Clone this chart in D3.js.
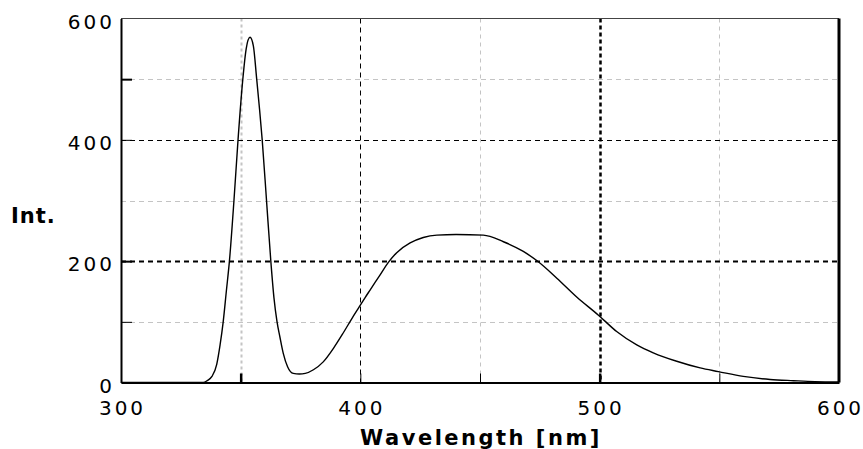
<!DOCTYPE html>
<html>
<head>
<meta charset="utf-8">
<script src="https://cdn.jsdelivr.net/npm/d3@7"></script>
<style>
  html, body { margin: 0; padding: 0; background: #fff; }
  svg { display: block; }
</style>
</head>
<body>
<svg id="chart" width="863" height="449"></svg>
<script>
// --- Data ---
const wavelength = [300, 330, 334.4, 336, 338, 340, 341.4, 342.7, 344, 345.3, 347.2, 348.9, 350.9, 352.3, 353.9,
  355.3, 356.7, 357.9, 359.0, 360.8, 362.6, 363.9, 365.2, 366.4, 367.8, 369.6, 372, 374.5, 377, 380.4,
  384.5, 388.7, 392.9, 396.4, 399.6, 402, 404, 408.2, 411.7, 415.2, 420.8, 426.3, 432, 440, 451.4,
  459.8, 468.1, 473.7, 482.1, 490.4, 499.5, 507.1, 515.5, 522.4, 532.2, 542, 549.6, 560, 571.2, 581, 590, 600];
const intensity = [0, 0, 0, 3, 10, 30, 62, 100, 150, 200, 300, 400, 500, 550, 569,
  555, 500, 450, 400, 300, 200, 140, 100, 75, 48, 26, 15, 14, 15, 21,
  34, 56, 82, 105, 125, 140, 152, 177, 198, 214, 230, 239, 243, 244, 243,
  232, 216, 201, 172, 141, 111, 84, 62, 49, 35, 24, 18, 10, 5, 3, 1.5, 1];

const xTicks = [300, 400, 500, 600];
const yTicks = [0, 200, 400, 600];
const xGridMajor = [400, 500];
const xGridMinor = [350, 450, 550];
const yGridMajor = [200, 400];
const yGridMinor = [100, 300, 500];

const FONT = "'DejaVu Sans', Verdana, sans-serif";

const svg = d3.select("#chart");
const x = d3.scaleLinear().domain([300, 600]).range([121, 839]);
const y = d3.scaleLinear().domain([0, 600]).range([382.5, 18.5]);

const g = svg.append("g");

// --- Grid ---
const grid = g.append("g").attr("class", "grid");
// vertical light lines
grid.selectAll(".vmin").data(xGridMinor).join("line")
  .attr("x1", d => Math.round(x(d)) + 0.5).attr("x2", d => Math.round(x(d)) + 0.5)
  .attr("y1", y(600)).attr("y2", y(0))
  .attr("stroke", "#c4c4c4")
  .attr("stroke-width", d => d === 350 ? 2 : 1)
  .attr("stroke-dasharray", d => d === 350 ? "3,3" : "4,4");
// horizontal light lines
grid.selectAll(".hmin").data(yGridMinor).join("line")
  .attr("x1", x(300)).attr("x2", x(600))
  .attr("y1", d => Math.round(y(d)) + 0.5).attr("y2", d => Math.round(y(d)) + 0.5)
  .attr("stroke", "#c4c4c4").attr("stroke-width", 1)
  .attr("stroke-dasharray", "5,4");
// vertical dark lines
grid.selectAll(".vmaj").data(xGridMajor).join("line")
  .attr("x1", d => Math.round(x(d)) + 0.5).attr("x2", d => Math.round(x(d)) + 0.5)
  .attr("y1", y(600)).attr("y2", y(0))
  .attr("stroke", "#000")
  .attr("stroke-width", d => d === 500 ? 2.5 : 1)
  .attr("stroke-dasharray", d => d === 500 ? "4,3" : "5,4");
// horizontal dark lines
grid.selectAll(".hmaj").data(yGridMajor).join("line")
  .attr("x1", x(300)).attr("x2", x(600))
  .attr("y1", d => Math.round(y(d)) + 0.5).attr("y2", d => Math.round(y(d)) + 0.5)
  .attr("stroke", "#000")
  .attr("stroke-width", d => d === 200 ? 2 : 1)
  .attr("stroke-dasharray", "5,4");

// --- Frame ---
g.append("line").attr("x1", x(300)).attr("x2", x(600)).attr("y1", y(600)).attr("y2", y(600))
  .attr("stroke", "#444").attr("stroke-width", 1);
g.append("line").attr("x1", x(600)).attr("x2", x(600)).attr("y1", y(600)).attr("y2", y(0))
  .attr("stroke", "#000").attr("stroke-width", 3);

// --- Curve ---
const pts = wavelength.map((w, i) => [w, intensity[i]]);
const line = d3.line().x(d => x(d[0])).y(d => y(d[1])).curve(d3.curveMonotoneX);
g.append("path").datum(pts)
  .attr("d", line)
  .attr("fill", "none").attr("stroke", "#000").attr("stroke-width", 1.4);

// --- Axes ---
const xAxis = d3.axisBottom(x).tickValues([350, 400, 450, 500, 550]).tickSizeInner(-9).tickSizeOuter(0).tickFormat("");
const xa = g.append("g").attr("transform", `translate(0,${y(0)})`).call(xAxis);
xa.select(".domain").attr("stroke", "#000").attr("stroke-width", 2);
xa.selectAll(".tick line").attr("stroke", "#000").attr("stroke-width", d => (d === 350 || d === 500) ? 2.5 : 1);

const yAxis = d3.axisLeft(y).tickValues([100, 200, 400, 500]).tickSizeInner(-11).tickSizeOuter(0).tickFormat("");
const ya = g.append("g").attr("transform", `translate(${x(300)},0)`).call(yAxis);
ya.select(".domain").attr("stroke", "#000").attr("stroke-width", 2);
ya.selectAll(".tick line").attr("stroke", "#000").attr("stroke-width", d => (d === 200 || d === 500) ? 2 : 1);

// --- Tick labels ---
g.selectAll(".ylab").data(yTicks).join("text")
  .attr("x", 115).attr("y", d => y(d) + 10)
  .attr("text-anchor", "end")
  .attr("font-family", FONT).attr("font-size", 20).attr("letter-spacing", 3)
  .attr("fill", "#000")
  .text(d => d);

g.selectAll(".xlab").data(xTicks).join("text")
  .attr("x", d => x(d) + 1.5).attr("y", 415)
  .attr("text-anchor", "middle")
  .attr("font-family", FONT).attr("font-size", 20).attr("letter-spacing", 3)
  .attr("fill", "#000")
  .text(d => d);

// --- Axis titles ---
svg.append("text")
  .attr("x", 11).attr("y", 223)
  .attr("font-family", FONT).attr("font-weight", "bold").attr("font-size", 21)
  .attr("letter-spacing", 1)
  .text("Int.");

svg.append("text")
  .attr("x", 481).attr("y", 445)
  .attr("text-anchor", "middle")
  .attr("font-family", FONT).attr("font-weight", "bold").attr("font-size", 21)
  .attr("letter-spacing", 2.5)
  .text("Wavelength [nm]");
</script>
</body>
</html>
